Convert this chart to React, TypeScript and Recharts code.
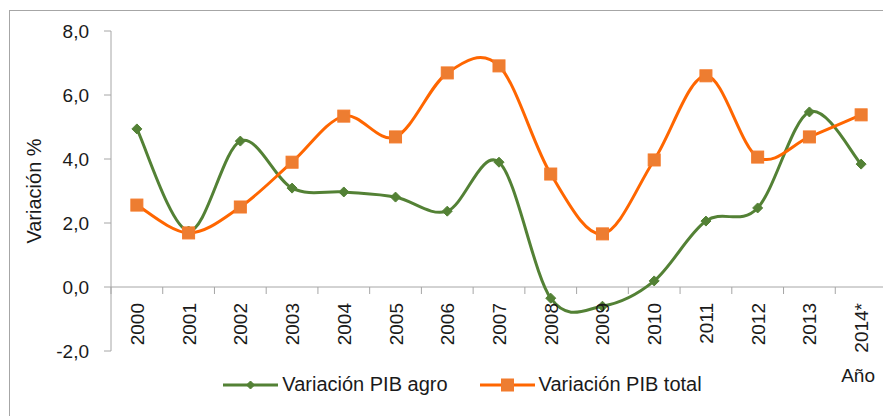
import React from 'react';
import {
  LineChart, Line, XAxis, YAxis, Legend, ReferenceLine
} from 'recharts';

const years = ['2000', '2001', '2002', '2003', '2004', '2005', '2006', '2007', '2008', '2009', '2010', '2011', '2012', '2013', '2014*'];
const pibAgro = [4.94, 1.75, 4.56, 3.09, 2.97, 2.81, 2.37, 3.9, -0.35, -0.6, 0.19, 2.06, 2.47, 5.47, 3.84];
const pibTotal = [2.56, 1.69, 2.5, 3.9, 5.34, 4.69, 6.69, 6.91, 3.53, 1.66, 3.97, 6.6, 4.06, 4.69, 5.38];
const yTicks = [-2, 0, 2, 4, 6, 8];

const data = years.map((year, i) => ({ year, agro: pibAgro[i], total: pibTotal[i] }));

const GREEN = '#538135';
const ORANGE = '#FF6600';
const SQUARE_FILL = '#ED7D31';
const AXIS = '#a6a6a6';
const TEXT = '#1a1a1a';
const FONT = '"Liberation Sans", Arial, sans-serif';

const W = 883;
const H = 408;
const Y_AXIS_W = 103;
const MARGIN = { top: 23, right: 4, left: 0, bottom: 22 };
const X_AXIS_H = 43;
const PLOT_W = W - Y_AXIS_W - MARGIN.right - MARGIN.left;
const PLOT_H = H - MARGIN.top - MARGIN.bottom - X_AXIS_H;
const Y_MIN = -2;
const Y_MAX = 8;
const BAND = PLOT_W / years.length;
// category axis crosses at 0, not at the bottom of the plot
const ZERO_SHIFT = (PLOT_H * (0 - Y_MIN)) / (Y_MAX - Y_MIN);

// Excel-like smoothing (Catmull-Rom as cubic bezier)
const excelCurve = (context: any) => {
  let pts: [number, number][] = [];
  return {
    areaStart() {},
    areaEnd() {},
    lineStart() { pts = []; },
    point(x: number, y: number) { pts.push([+x, +y]); },
    lineEnd() {
      if (!pts.length) return;
      context.moveTo(pts[0][0], pts[0][1]);
      for (let i = 0; i < pts.length - 1; i++) {
        const p0 = pts[i - 1] || pts[i];
        const p1 = pts[i];
        const p2 = pts[i + 1];
        const p3 = pts[i + 2] || p2;
        context.bezierCurveTo(
          p1[0] + (p2[0] - p0[0]) / 6, p1[1] + (p2[1] - p0[1]) / 6,
          p2[0] - (p3[0] - p1[0]) / 6, p2[1] - (p3[1] - p1[1]) / 6,
          p2[0], p2[1]
        );
      }
    },
  };
};

const Diamond = ({ cx, cy, s = 5 }: any) => (
  <path d={`M${cx},${cy - s}L${cx + s},${cy}L${cx},${cy + s}L${cx - s},${cy}Z`} fill={GREEN} stroke={GREEN} strokeWidth={1} />
);

const Square = ({ cx, cy, s = 6 }: any) => (
  <rect x={cx - s} y={cy - s} width={s * 2} height={s * 2} fill={SQUARE_FILL} stroke="#F47A2A" strokeWidth={1} />
);

const YearTick = ({ x, y, payload, index }: any) => {
  const ay = y - ZERO_SHIFT;
  const last = index === years.length - 1;
  return (
    <g>
      <line x1={x - BAND / 2} x2={x - BAND / 2} y1={ay} y2={ay + 7} stroke={AXIS} />
      {last && <line x1={x + BAND / 2} x2={x + BAND / 2} y1={ay} y2={ay + 7} stroke={AXIS} />}
      <text
        x={0}
        y={0}
        transform={`translate(${x + 7},${ay + 16}) rotate(-90)`}
        textAnchor="end"
        fontSize={19}
        fontFamily={FONT}
        fill={TEXT}
      >
        {payload.value}
      </text>
    </g>
  );
};

const legendItems = [
  { label: 'Variación PIB agro', color: GREEN, marker: 'diamond' },
  { label: 'Variación PIB total', color: ORANGE, marker: 'square' },
];

const LegendContent = () => (
  <div style={{ display: 'flex', justifyContent: 'center', gap: 32, paddingLeft: 26, fontFamily: FONT, fontSize: 20, color: TEXT }}>
    {legendItems.map(item => (
      <div key={item.label} style={{ display: 'flex', alignItems: 'center', gap: 4 }}>
        <svg width={55} height={14}>
          <line x1={0} x2={55} y1={7} y2={7} stroke={item.color} strokeWidth={3} />
          {item.marker === 'diamond' ? <Diamond cx={27.5} cy={7} s={4} /> : <Square cx={27.5} cy={7} s={6} />}
        </svg>
        <span>{item.label}</span>
      </div>
    ))}
  </div>
);

export default function App() {
  return (
    <div style={{ position: 'relative', width: W, height: H }}>
      <div style={{ position: 'absolute', left: 1, top: 2, width: W, height: H, borderTop: `1px solid ${AXIS}`, borderLeft: `1px solid ${AXIS}` }} />
      <LineChart width={W} height={H} data={data} margin={MARGIN}>
        <XAxis
          dataKey="year"
          height={X_AXIS_H}
          axisLine={false}
          tickLine={false}
          tickSize={0}
          tickMargin={0}
          interval={0}
          padding={{ left: BAND / 2, right: BAND / 2 }}
          tick={<YearTick />}
          label={{ value: 'Año', position: 'insideBottomRight', offset: 12, fontSize: 19, fontFamily: FONT, fill: TEXT }}
        />
        <YAxis
          width={Y_AXIS_W}
          domain={[Y_MIN, Y_MAX]}
          ticks={yTicks}
          tickFormatter={(v: number) => v.toFixed(1).replace('.', ',')}
          stroke={AXIS}
          tickSize={7}
          tickMargin={15}
          tick={{ fontSize: 19, fontFamily: FONT, fill: TEXT }}
          label={{
            content: ({ viewBox }: any) => (
              <text
                transform={`translate(${viewBox.x + 28},${viewBox.y + viewBox.height / 2}) rotate(-90)`}
                textAnchor="middle"
                dominantBaseline="middle"
                fontSize={20}
                fontFamily={FONT}
                fill={TEXT}
              >
                Variación %
              </text>
            ),
          }}
        />
        <ReferenceLine y={0} stroke={AXIS} strokeWidth={1} />
        <Legend verticalAlign="middle" wrapperStyle={{ top: 365, left: 0, width: W }} content={<LegendContent />} />
        <Line
          dataKey="agro"
          type={excelCurve as any}
          stroke={GREEN}
          strokeWidth={3}
          dot={(p: any) => <Diamond key={`d-${p.index}`} cx={p.cx} cy={p.cy} s={5} />}
          activeDot={false}
          isAnimationActive={false}
        />
        <Line
          dataKey="total"
          type={excelCurve as any}
          stroke={ORANGE}
          strokeWidth={3}
          dot={(p: any) => <Square key={`s-${p.index}`} cx={p.cx} cy={p.cy} s={6} />}
          activeDot={false}
          isAnimationActive={false}
        />
      </LineChart>
    </div>
  );
}
